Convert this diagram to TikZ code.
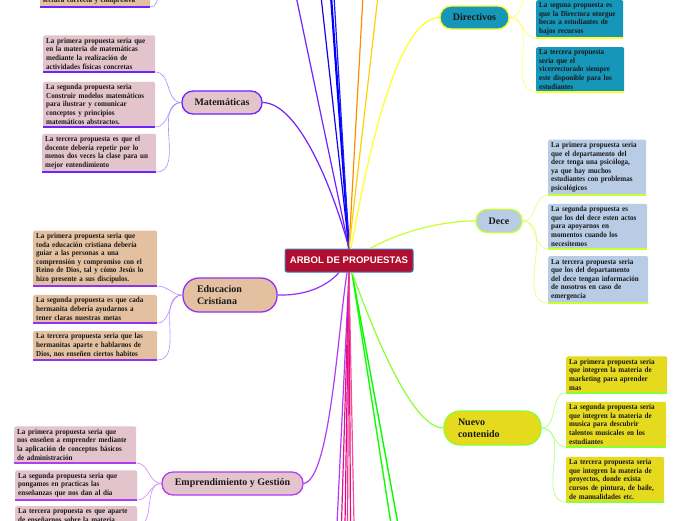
\documentclass[tikz,border=0pt]{standalone}
\usepackage{fontspec}
\setmainfont{Liberation Serif}
\newfontfamily\leaffont{Liberation Serif}[FakeStretch=0.92]
\newfontfamily\rootfont{Liberation Sans}

\definecolor{rootred}{HTML}{B00E2E}
\definecolor{rootedge}{HTML}{3A7FC1}
\definecolor{matpink}{HTML}{E4C4CC}
\definecolor{edutan}{HTML}{E3C1A0}
\definecolor{dirteal}{HTML}{1696B9}
\definecolor{deceblue}{HTML}{B8CCE6}
\definecolor{nueyellow}{HTML}{E6DA1E}
\definecolor{matline}{HTML}{7022FF}
\definecolor{eduline}{HTML}{9430F2}
\definecolor{empline}{HTML}{B23CF5}
\definecolor{dirline}{HTML}{FFFF22}
\definecolor{deceline}{HTML}{C8FF30}
\definecolor{nueline}{HTML}{88FF33}
\definecolor{matlight}{HTML}{A98BFF}
\definecolor{edulight}{HTML}{B98BFF}
\definecolor{emplight}{HTML}{CC88FF}
\definecolor{dirlight}{HTML}{FFFF66}
\definecolor{decelight}{HTML}{DDFF77}
\definecolor{nuelight}{HTML}{AAFF77}

\tikzset{
  rootbox/.style={rectangle, rounded corners=2pt, fill=rootred, draw=rootedge,
    line width=1pt, minimum width=128pt, minimum height=23pt, text=white,
    font=\rootfont\bfseries\fontsize{9.6}{11}\selectfont},
  branch/.style={rectangle, rounded corners=11pt, line width=1.3pt,
    minimum height=23pt, inner sep=2pt, text=black!90,
    font=\bfseries\fontsize{10}{12}\selectfont},
  branchtwo/.style={branch, rounded corners=16pt, minimum height=34pt,
    inner xsep=14pt, align=left},
  leaf/.style={rectangle, rounded corners=1.5pt, inner xsep=3pt, inner ysep=2.6pt,
    anchor=south west, align=left, text=black!90,
    font=\leaffont\bfseries\fontsize{7.7}{8.6}\selectfont},
  twig/.style={line width=0.6pt},
  limb/.style={line width=1.2pt}
}

\begin{document}
\begin{tikzpicture}[x=1pt, y=-1pt]
    \fill[white] (0,0) rectangle (696,520);
    \useasboundingbox (0,0) rectangle (696,520);

    %% central node
    \node[rootbox] (root) at (349,260.5) {ARBOL DE PROPUESTAS};

    %% branches
    \node[branch, fill=matpink, draw=matline, minimum width=80pt] (mat) at (222,102.5) {Matemáticas};
    \node[branchtwo, fill=edutan, draw=eduline, text width=66pt] (edu) at (230,295) {Educacion\\Cristiana};
    \node[branch, fill=matpink, draw=empline, minimum width=141pt] (emp) at (232.5,483.5) {Emprendimiento y Gestión};
    \node[branch, fill=dirteal, draw=dirline, minimum width=69pt] (dir) at (474.5,17.5) {Directivos};
    \node[branch, fill=deceblue, draw=deceline, minimum width=46pt] (dece) at (499,221) {Dece};
    \node[branchtwo, fill=nueyellow, draw=nueline, text width=69pt, inner xsep=14pt] (nue) at (492.5,428) {Nuevo\\contenido};

    %% leaves on the left
    \node[leaf, fill=edutan, text width=104pt] (len3) at (40,7) {lectura correcta y compresiva};
    \node[leaf, fill=matpink, text width=106pt] (mat1) at (43,72) {La primera propuesta seria que\\en la materia de matemáticas\\mediante la realización de\\actividades físicas concretas};
    \node[leaf, fill=matpink, text width=106pt] (mat2) at (43,127) {La segunda propuesta seria\\Construir modelos matemáticos\\para ilustrar y comunicar\\conceptos y principios\\matemáticos abstractos.};
    \node[leaf, fill=matpink, text width=108pt] (mat3) at (42,172) {La tercera propuesta es que el\\docente debería repetir por lo\\menos dos veces la clase para un\\mejor entendimiento};
    \node[leaf, fill=edutan, text width=118pt] (edu1) at (33,286) {La primera propuesta seria que\\toda educación cristiana debería\\guiar a las personas a una\\comprensión y compromiso con el\\Reino de Dios, tal y cómo Jesús lo\\hizo presente a sus discípulos.};
    \node[leaf, fill=edutan, text width=118pt] (edu2) at (33,323) {La segunda propuesta es que cada\\hermanita debería ayudarnos a\\tener claras nuestras metas};
    \node[leaf, fill=edutan, text width=118pt] (edu3) at (33,360) {La tercera propuesta seria que las\\hermanitas aparte e hablarnos de\\Dios, nos enseñen ciertos habitos};
    \node[leaf, fill=matpink, text width=116pt] (emp1) at (14,463) {La primera propuesta seria que\\nos enseñen a emprender mediante\\la aplicación de conceptos básicos\\de administración};
    \node[leaf, fill=matpink, text width=116pt] (emp2) at (15,500) {La segunda propuesta seria que\\pongamos en practicas las\\enseñanzas que nos dan al día};
    \node[leaf, fill=matpink, text width=116pt, anchor=north west] (emp3) at (15,506) {La tercera propuesta es que aparte\\de enseñarnos sobre la materia};

    %% leaves on the right
    \node[leaf, fill=dirteal, text width=81pt] (dir2) at (536,38) {La seguna propuesta es\\que la Directora otorgue\\becas a estudiantes de\\bajos recursos};
    \node[leaf, fill=dirteal, text width=82pt] (dir3) at (536,92) {La tercera propuesta\\seria que el\\vicerrectorado siempre\\este disponible para los\\estudiantes};
    \node[leaf, fill=deceblue, text width=92pt] (dece1) at (548,195) {La primera propuesta seria\\que el departamento del\\dece tenga una psicóloga,\\ya que hay muchos\\estudiantes con problemas\\psicológicos};
    \node[leaf, fill=deceblue, text width=93pt] (dece2) at (548,249) {La segunda propuesta es\\que los del dece esten actos\\para apoyarnos en\\momentos cuando los\\necesitemos};
    \node[leaf, fill=deceblue, text width=94pt] (dece3) at (548,303) {La tercera propuesta seria\\que los del departamento\\del dece tengan información\\de nosotros en caso de\\emergencia};
    \node[leaf, fill=nueyellow, text width=95pt] (nue1) at (566,393) {La primera propuesta seria\\que integren la materia de\\marketing para aprender\\mas};
    \node[leaf, fill=nueyellow, text width=94pt] (nue2) at (566,447) {La segunda propuesta seria\\que integren la materia de\\musica para descubrir\\talentos musicales en los\\estudiantes};
    \node[leaf, fill=nueyellow, text width=92pt] (nue3) at (566,502) {La tercera propuesta seria\\que integren la materia de\\proyectos, donde exista\\cursos de pintura, de baile,\\de manualidades etc.};

    %% ends of branches outside the frame
    \coordinate (up1) at (296,-4);
    \coordinate (up2) at (321,-4);
    \coordinate (up3) at (331,-4);
    \coordinate (up4) at (334,-4);
    \coordinate (up5) at (363,-4);
    \coordinate (up6) at (378,-4);
    \coordinate (down1) at (337,524);
    \coordinate (down2) at (341.5,524);
    \coordinate (down3) at (345,524);
    \coordinate (down4) at (347.5,524);
    \coordinate (down5) at (350.5,524);
    \coordinate (down6) at (354,524);
    \coordinate (down7) at (391,524);
    \coordinate (down8) at (398,524);
    \coordinate (lenup) at (166,-22);
    \coordinate (dirup) at (536,-14);

    %% branches leaving the frame
    \draw[limb, color=matline] (root.north) -- (up1);
    \draw[limb, color=blue!80!violet] (root.north) -- (up2);
    \draw[line width=2.2pt, color=blue] (root.north) -- (up3);
    \draw[limb, color=blue!90!white] (root.north) -- (up4);
    \draw[limb, color=orange!90!yellow] (root.north) -- (up5);
    \draw[limb, color=yellow!70!orange] (root.north) -- (up6);
    \draw[limb, color=empline] (root.south) -- (down1);
    \draw[limb, color=magenta!80!violet] (root.south) -- (down2);
    \draw[limb, color=magenta] (root.south) -- (down3);
    \draw[limb, color=magenta!70!pink] (root.south) -- (down4);
    \draw[limb, color=magenta!80!red] (root.south) -- (down5);
    \draw[limb, color=magenta!60!pink] (root.south) -- (down6);
    \draw[line width=1.4pt, color=green!90!lime] ([xshift=3pt]root.south) -- (down7);
    \draw[line width=1.4pt, color=green] ([xshift=3pt]root.south) -- (down8);

    %% branches to the main topics
    \draw[limb, color=matline] (root.north) .. controls (335,195) and (300,103) .. (mat.east);
    \draw[limb, color=dirline] ([xshift=2pt]root.north) .. controls (365,170) and (395,18) .. (dir.west);
    \draw[limb, color=deceline] ([xshift=21pt]root.north) .. controls (400,232) and (440,221) .. (dece.west);
    \draw[limb, color=eduline] ([xshift=-10pt]root.south) .. controls (330,283) and (310,296) .. (edu.east);
    \draw[limb, color=empline] ([xshift=-2pt]root.south) .. controls (338,330) and (330,480) .. (emp.east);
    \draw[limb, color=nueline] ([xshift=3pt]root.south) .. controls (380,350) and (415,428) .. (nue.west);

    %% twigs to the leaves
    \foreach \n in {mat1,mat2,mat3}
      \draw[twig, matlight] (mat.west) to[out=180,in=0] (\n.south east);
    \foreach \n in {edu1,edu2,edu3}
      \draw[twig, edulight] (edu.west) to[out=180,in=0] (\n.south east);
    \foreach \n in {emp1,emp2,emp3}
      \draw[twig, emplight] (emp.west) to[out=180,in=0] (\n.south east);
    \draw[twig, matlight] (len3.south east) to[out=0,in=180] (lenup);
    \foreach \n in {dir2,dir3,dirup}
      \draw[twig, dirlight] (dir.east) to[out=0,in=180] (\n.south west);
    \foreach \n in {dece1,dece2,dece3}
      \draw[twig, decelight] (dece.east) to[out=0,in=180] (\n.south west);
    \foreach \n in {nue1,nue2,nue3}
      \draw[twig, nuelight] (nue.east) to[out=0,in=180] (\n.south west);

    %% underlines of the leaves
    \foreach \n/\c in {len3/matline, mat1/matline, mat2/matline, mat3/matline,
        edu1/eduline, edu2/eduline, edu3/eduline, emp1/empline, emp2/empline,
        dir2/dirline, dir3/dirline, dece1/deceline, dece2/deceline, dece3/deceline,
        nue1/nueline, nue2/nueline, nue3/nueline}
      \draw[line width=1.3pt, \c] (\n.south west) -- (\n.south east);
\end{tikzpicture}
\end{document}
